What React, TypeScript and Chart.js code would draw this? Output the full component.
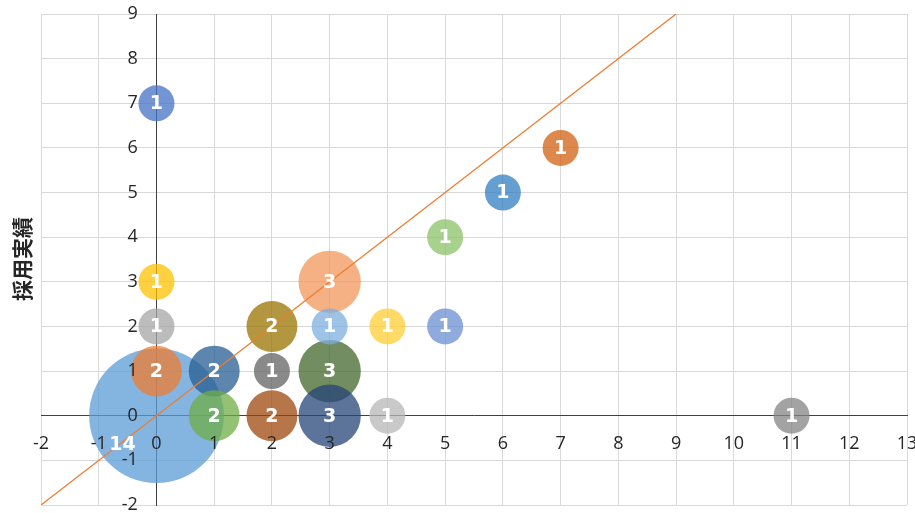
import React, { useEffect, useRef } from 'react';
import { Chart, registerables } from 'chart.js';

Chart.register(...registerables);

// Bubble positions (x, y) and the number of people each bubble stands for
const BUBBLE_X = [0, 0, 0, 0, 0, 1, 1, 2, 2, 2, 3, 3, 3, 3, 4, 4, 5, 5, 6, 7, 11];
const BUBBLE_Y = [0, 1, 2, 3, 7, 0, 1, 0, 1, 2, 0, 1, 2, 3, 0, 2, 2, 4, 5, 6, 0];
const BUBBLE_COUNT = [14, 2, 1, 1, 1, 2, 2, 2, 1, 2, 3, 3, 1, 3, 1, 1, 1, 1, 1, 1, 1];

// Reference diagonal y = x
const TREND_X = [-2, 9];
const TREND_Y = [-2, 9];

const X_MIN = -2;
const X_MAX = 13;
const Y_MIN = -2;
const Y_MAX = 9;

const Y_TITLE = '採用実績';

// Office palette, one colour per point
const POINT_COLORS = [
  '#5B9BD5', '#ED7D31', '#A5A5A5', '#FFC000', '#4472C4', '#70AD47',
  '#255E91', '#9E480E', '#636363', '#997300', '#264478', '#43682B',
  '#7CAFDD', '#F1975A', '#B7B7B7', '#FFCD33', '#698ED0', '#8CC168',
  '#327DC2', '#D26012', '#848484',
];
const BUBBLE_ALPHA = 0.75;
const UNIT_RADIUS = 18; // pixel radius of a bubble of size 1 (area ∝ size)

function withAlpha(hex: string, a: number): string {
  const n = parseInt(hex.slice(1), 16);
  return `rgba(${(n >> 16) & 255}, ${(n >> 8) & 255}, ${n & 255}, ${a})`;
}

// Larger bubbles are painted first so small ones stay visible
const DRAW_ORDER = BUBBLE_COUNT.map((_, i) => i).sort(
  (a, b) => BUBBLE_COUNT[b] - BUBBLE_COUNT[a] || b - a
);

const TICK_FONT = { family: '"Open Sans", sans-serif', size: 18 };
const TICK_COLOR = '#262626';

const bubbleLabels = {
  id: 'bubbleLabels',
  afterDatasetsDraw(chart: any) {
    const meta = chart.getDatasetMeta(1);
    const ctx = chart.ctx as CanvasRenderingContext2D;
    const maxCount = Math.max(...BUBBLE_COUNT);
    ctx.save();
    ctx.font = 'bold 19px "DejaVu Sans", sans-serif';
    ctx.fillStyle = '#ffffff';
    ctx.textAlign = 'center';
    ctx.textBaseline = 'middle';
    meta.data.forEach((el: any, k: number) => {
      const count = BUBBLE_COUNT[DRAW_ORDER[k]];
      let x = el.x;
      let y = el.y;
      // the label of the largest bubble sits toward its lower left
      if (count === maxCount) {
        x -= 34;
        y += 28;
      }
      ctx.fillText(String(count), x, y + 1);
    });
    ctx.restore();
  },
};

const yTitle = {
  id: 'yTitle',
  afterDraw(chart: any) {
    const ctx = chart.ctx as CanvasRenderingContext2D;
    ctx.save();
    ctx.translate(22, 259);
    ctx.rotate(-Math.PI / 2);
    ctx.font = 'bold 21px "Noto Sans CJK JP", sans-serif';
    ctx.fillStyle = '#262626';
    ctx.textAlign = 'center';
    ctx.textBaseline = 'middle';
    ctx.fillText(Y_TITLE, 0, 0);
    ctx.restore();
  },
};

export default function App() {
  const canvasRef = useRef<HTMLCanvasElement | null>(null);

  useEffect(() => {
    document.body.style.margin = '0';
    const canvas = canvasRef.current;
    if (!canvas) return;

    const bubbleData = DRAW_ORDER.map((i) => ({ x: BUBBLE_X[i], y: BUBBLE_Y[i] }));
    const bubbleColors = DRAW_ORDER.map((i) => withAlpha(POINT_COLORS[i], BUBBLE_ALPHA));
    const bubbleRadius = DRAW_ORDER.map((i) => UNIT_RADIUS * Math.sqrt(BUBBLE_COUNT[i]));
    const trendData = TREND_X.map((x, i) => ({ x, y: TREND_Y[i] }));

    const zeroPadding = (scale: any) => {
      scale.paddingTop = 0;
      scale.paddingBottom = 0;
      scale.paddingLeft = 0;
      scale.paddingRight = 0;
    };

    const chart = new Chart(canvas, {
      type: 'bubble',
      data: {
        datasets: [
          {
            type: 'line',
            label: 'y = x',
            data: trendData,
            borderColor: '#ED7D31',
            borderWidth: 1.3,
            pointRadius: 0,
            fill: false,
            order: 0,
          } as any,
          {
            type: 'bubble',
            label: Y_TITLE,
            data: bubbleData,
            backgroundColor: bubbleColors,
            borderWidth: 0,
            radius: (c: any) => bubbleRadius[c.dataIndex],
            order: 1,
          } as any,
        ],
      },
      options: {
        animation: false,
        responsive: true,
        maintainAspectRatio: false,
        events: [],
        layout: {
          autoPadding: false,
          padding: { left: 41, right: 8, top: 14, bottom: 8 },
        },
        plugins: {
          legend: { display: false },
          tooltip: { enabled: false },
        },
        scales: {
          x: {
            type: 'linear',
            min: X_MIN,
            max: X_MAX,
            position: { y: 0 } as any,
            afterFit: zeroPadding,
            grid: { color: '#D9D9D9', lineWidth: 1, drawTicks: false },
            border: { display: true, color: '#404040', width: 1 },
            ticks: {
              stepSize: 1,
              autoSkip: false,
              maxRotation: 0,
              padding: 17,
              font: TICK_FONT,
              color: TICK_COLOR,
              z: 1,
            } as any,
          },
          y: {
            type: 'linear',
            min: Y_MIN,
            max: Y_MAX,
            position: { x: 0 } as any,
            afterFit: zeroPadding,
            grid: { color: '#D9D9D9', lineWidth: 1, drawTicks: false },
            border: { display: true, color: '#404040', width: 1 },
            ticks: {
              stepSize: 1,
              autoSkip: false,
              font: TICK_FONT,
              color: TICK_COLOR,
              z: 1,
              // labels are right-aligned on the axis line; trailing spaces keep a gap
              callback: (v: any) => `${v}    `,
            } as any,
          },
        },
      },
      plugins: [bubbleLabels, yTitle],
    });

    return () => chart.destroy();
  }, []);

  return (
    <div style={{ width: 915, height: 513, position: 'relative' }}>
      <canvas ref={canvasRef} />
    </div>
  );
}
